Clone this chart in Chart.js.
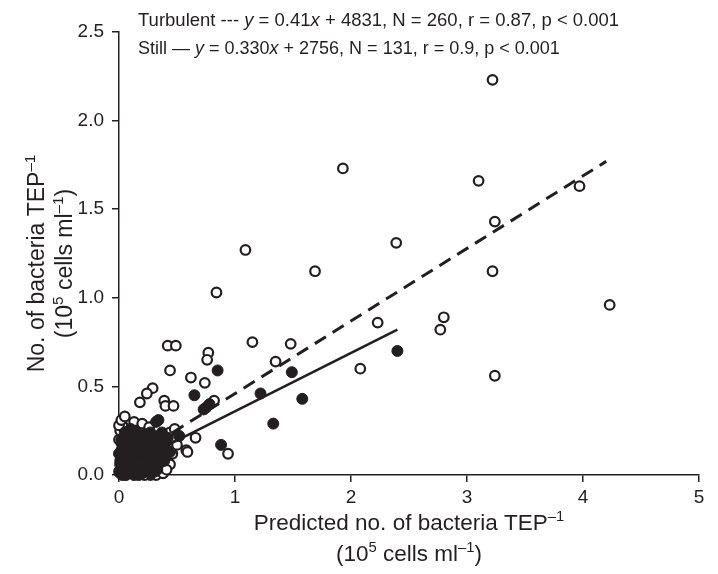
<!DOCTYPE html>
<html>
<head>
    <title>Observed vs predicted bacteria per TEP</title>
    <script src="https://cdn.jsdelivr.net/npm/chart.js"></script>
    <style>
        body { margin: 0; background: #fff; }
        canvas { display: block; }
    </style>
</head>
<body>
    <canvas id="tepChart" width="718" height="574"></canvas>
    <script>
        // predicted (x) vs observed (y), units 10^5 cells ml-1
        const turbulentPoints = [
            [3.22, 2.23], [3.10, 1.66], [3.97, 1.63], [3.24, 1.43], [3.22, 1.15], [4.23, 0.96],
            [2.80, 0.89], [2.77, 0.82], [3.24, 0.56], [1.93, 1.73], [1.09, 1.27], [2.39, 1.31],
            [1.69, 1.15], [0.84, 1.03], [2.23, 0.86], [1.15, 0.75], [1.48, 0.74], [0.77, 0.69],
            [0.76, 0.65], [1.35, 0.64], [2.08, 0.60], [0.74, 0.52], [0.82, 0.42], [0.94, 0.12],
            [0.42, 0.73], [0.49, 0.73], [0.44, 0.59], [0.62, 0.55], [0.29, 0.49], [0.24, 0.46],
            [0.18, 0.41], [0.39, 0.42], [0.40, 0.39], [0.47, 0.39], [0.09, 0.29], [0.11, 0.26],
            [0.66, 0.21], [0.58, 0.14], [0.59, 0.13], [0.04, 0.17], [0.37, 0.11], [0.35, 0.07],
            [0.34, 0.17], [0.41, 0.23],
            [0.00, 0.02], [0.01, 0.08], [0.02, 0.14], [0.02, 0.18], [0.04, 0.17], [0.03, 0.22],
            [0.05, 0.25], [0.08, 0.29], [0.10, 0.27], [0.09, 0.20], [0.06, 0.30], [0.12, 0.24],
            [0.15, 0.26], [0.18, 0.22], [0.20, 0.25], [0.23, 0.21], [0.26, 0.19], [0.28, 0.22],
            [0.30, 0.17], [0.33, 0.19], [0.36, 0.22], [0.38, 0.20], [0.44, 0.24], [0.35, 0.15],
            [0.39, 0.11], [0.40, 0.07], [0.37, 0.04], [0.35, 0.03], [0.32, 0.00], [0.27, 0.00],
            [0.22, 0.00], [0.30, 0.06], [0.33, 0.10], [0.36, 0.13], [0.42, 0.16], [0.45, 0.18],
            [0.29, 0.11], [0.25, 0.14], [0.21, 0.11], [0.17, 0.08], [0.13, 0.10], [0.07, 0.11],
            [0.04, 0.06], [0.11, 0.05], [0.16, 0.04], [0.19, 0.16], [0.24, 0.08], [0.01, 0.25],
            [0.03, 0.28], [0.15, 0.19], [0.13, 0.03], [0.08, 0.02], [0.06, 0.15], [0.31, 0.02],
            [0.38, 0.01], [0.42, 0.10],
            [0.47, 0.20], [0.46, 0.12], [0.44, 0.06], [0.41, 0.03], [0.48, 0.26], [0.00, 0.20],
            [0.00, 0.28], [0.02, 0.31], [0.05, 0.33], [0.13, 0.30], [0.20, 0.29], [0.26, 0.27],
            [0.50, 0.17]
        ];
        const stillPoints = [
            [0.85, 0.59], [1.49, 0.58], [1.22, 0.46], [1.58, 0.43], [2.40, 0.70], [1.33, 0.29],
            [0.88, 0.17], [0.78, 0.40], [0.73, 0.37], [0.75, 0.38], [0.65, 0.45], [0.52, 0.22],
            [0.32, 0.30], [0.34, 0.31], [0.18, 0.22],
            [0.01, 0.01], [0.02, 0.03], [0.03, 0.00], [0.04, 0.05], [0.05, 0.02], [0.06, 0.08],
            [0.07, 0.04], [0.08, 0.01], [0.09, 0.06], [0.10, 0.10], [0.11, 0.03], [0.12, 0.07],
            [0.13, 0.12], [0.14, 0.05], [0.15, 0.09], [0.16, 0.02], [0.17, 0.13], [0.18, 0.06],
            [0.19, 0.10], [0.20, 0.15], [0.21, 0.04], [0.22, 0.08], [0.23, 0.12], [0.24, 0.17],
            [0.25, 0.06], [0.26, 0.10], [0.28, 0.14], [0.29, 0.05], [0.30, 0.09], [0.32, 0.12],
            [0.02, 0.10], [0.03, 0.14], [0.05, 0.12], [0.07, 0.16], [0.09, 0.19], [0.12, 0.18],
            [0.14, 0.21], [0.16, 0.17], [0.21, 0.19], [0.04, 0.18], [0.06, 0.21], [0.08, 0.13],
            [0.11, 0.15], [0.13, 0.00], [0.17, 0.00], [0.20, 0.01], [0.24, 0.02], [0.27, 0.01],
            [0.10, 0.22], [0.01, 0.06], [0.00, 0.12], [0.15, 0.14], [0.19, 0.03], [0.23, 0.20],
            [0.26, 0.16], [0.06, 0.00], [0.08, 0.09], [0.35, 0.07], [0.33, 0.03], [0.31, 0.18],
            [0.29, 0.20], [0.02, 0.20], [0.05, 0.24], [0.10, 0.26], [0.14, 0.25],
            [0.33, 0.16], [0.36, 0.19], [0.38, 0.14], [0.40, 0.18], [0.42, 0.21], [0.37, 0.24],
            [0.27, 0.24], [0.22, 0.23], [0.34, 0.22], [0.30, 0.13], [0.39, 0.08], [0.28, 0.07],
            [0.25, 0.11], [0.18, 0.18], [0.12, 0.12], [0.03, 0.08], [0.07, 0.19], [0.20, 0.07],
            [0.44, 0.13]
        ];
        // regression line end points
        const turbulentFit = [[0, 0.05], [4.2, 1.77]];
        const stillFit = [[0, 0.03], [2.4, 0.82]];
        const xTicks = [0, 1, 2, 3, 4, 5];
        const yTicks = [0, 0.5, 1, 1.5, 2, 2.5];

        const ink = '#231f20';
        const fontFamily = "'Liberation Sans', Arial, Helvetica, sans-serif";
        const toXY = arr => arr.map(p => ({ x: p[0], y: p[1] }));

        // draws a line of text made of runs (plain / italic / superscript)
        function drawRuns(ctx, runs, x, y, size, align) {
            const fontFor = r => (r.it ? 'italic ' : '') + (r.sup ? size * 0.66 : size) + 'px ' + fontFamily;
            let total = 0;
            runs.forEach(r => { ctx.font = fontFor(r); total += ctx.measureText(r.t).width; });
            let cx = align === 'center' ? x - total / 2 : x;
            ctx.textBaseline = 'alphabetic';
            ctx.textAlign = 'left';
            runs.forEach(r => {
                ctx.font = fontFor(r);
                ctx.fillText(r.t, cx, r.sup ? y - size * 0.38 : y);
                cx += ctx.measureText(r.t).width;
            });
        }

        const textPlugin = {
            id: 'figureText',
            afterDraw(chart) {
                const ctx = chart.ctx;
                ctx.save();
                ctx.fillStyle = ink;
                drawRuns(ctx, [
                    { t: 'Turbulent --- ' }, { t: 'y', it: true }, { t: ' = 0.41' }, { t: 'x', it: true },
                    { t: ' + 4831, N = 260, r = 0.87, p < 0.001' }
                ], 138, 26, 18.5, 'left');
                drawRuns(ctx, [
                    { t: 'Still \u2014 ' }, { t: 'y', it: true }, { t: ' = 0.330' }, { t: 'x', it: true },
                    { t: ' + 2756, N = 131, r = 0.9, p < 0.001' }
                ], 138, 54, 18, 'left');

                const xTitle1 = [{ t: 'Predicted no. of bacteria TEP' }, { t: '\u20131', sup: true }];
                const title2 = [{ t: '(10' }, { t: '5', sup: true }, { t: ' cells ml' }, { t: '\u20131', sup: true }, { t: ')' }];
                const xc = (chart.chartArea.left + chart.chartArea.right) / 2;
                drawRuns(ctx, xTitle1, xc, 530, 22.5, 'center');
                drawRuns(ctx, title2, xc, 561, 22.5, 'center');

                const yTitle1 = [{ t: 'No. of bacteria TEP' }, { t: '\u20131', sup: true }];
                const yc = (chart.chartArea.top + chart.chartArea.bottom) / 2 + 10;
                ctx.translate(0, yc);
                ctx.rotate(-Math.PI / 2);
                drawRuns(ctx, yTitle1, 0, 44, 23, 'center');
                drawRuns(ctx, title2, 0, 72, 23, 'center');
                ctx.restore();
            }
        };

        const tickFont = { family: fontFamily, size: 19 };
        const axisGrid = { drawOnChartArea: false, drawTicks: true, tickLength: 7, color: ink, lineWidth: 1.5 };
        const axisBorder = { display: true, color: ink, width: 1.5 };

        new Chart(document.getElementById('tepChart').getContext('2d'), {
            type: 'scatter',
            data: {
                datasets: [
                    {
                        label: 'Turbulent fit',
                        type: 'line',
                        data: toXY(turbulentFit),
                        borderColor: ink,
                        borderWidth: 3,
                        borderDash: [13, 8],
                        pointRadius: 0,
                        fill: false,
                        order: 0
                    },
                    {
                        label: 'Still fit',
                        type: 'line',
                        data: toXY(stillFit),
                        borderColor: ink,
                        borderWidth: 2.6,
                        pointRadius: 0,
                        fill: false,
                        order: 0
                    },
                    {
                        label: 'Still',
                        data: toXY(stillPoints),
                        pointRadius: 5.5,
                        pointBackgroundColor: ink,
                        pointBorderColor: ink,
                        pointBorderWidth: 1,
                        order: 1
                    },
                    {
                        label: 'Turbulent',
                        data: toXY(turbulentPoints),
                        pointRadius: 4.8,
                        pointBackgroundColor: '#ffffff',
                        pointBorderColor: ink,
                        pointBorderWidth: 2.2,
                        order: 2
                    }
                ]
            },
            options: {
                responsive: false,
                animation: false,
                clip: false,
                layout: { padding: { left: 0, right: 19, top: 32, bottom: 0 } },
                plugins: {
                    legend: { display: false },
                    tooltip: { enabled: false }
                },
                scales: {
                    x: {
                        type: 'linear',
                        min: 0,
                        max: 5,
                        afterFit: scale => { scale.height = 99; },
                        afterBuildTicks: scale => { scale.ticks = xTicks.map(v => ({ value: v })); },
                        ticks: { color: ink, font: tickFont, padding: 4, callback: v => String(v) },
                        grid: axisGrid,
                        border: axisBorder
                    },
                    y: {
                        type: 'linear',
                        min: 0,
                        max: 2.5,
                        afterFit: scale => { scale.width = 119; },
                        afterBuildTicks: scale => { scale.ticks = yTicks.map(v => ({ value: v })); },
                        ticks: { color: ink, font: tickFont, padding: 8, callback: v => v.toFixed(1) },
                        grid: axisGrid,
                        border: axisBorder
                    }
                }
            },
            plugins: [textPlugin]
        });
    </script>
</body>
</html>
